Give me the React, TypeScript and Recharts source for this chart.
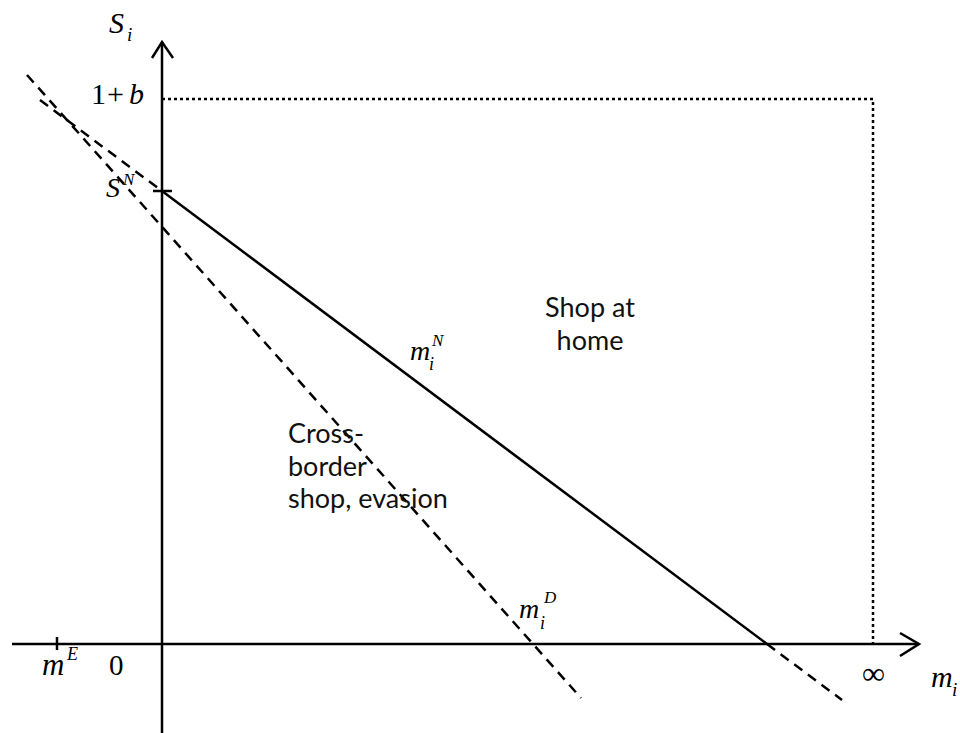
import React from 'react';
import { ComposedChart, Line, XAxis, YAxis, ReferenceDot } from 'recharts';

// Cross-border shopping diagram: threshold lines m_i^N and m_i^D in (m_i, S_i) space.
// One model unit = 100 px on screen; origin at the axis crossing.
const W = 960;
const H = 733;
const X_DOMAIN: [number, number] = [-1.62, 7.98];
const Y_DOMAIN: [number, number] = [-0.89, 6.44];

// key values on the axes
const S_N = 4.53;
const ONE_PLUS_B = 5.45;
const INF = 7.11;
const M_E = -1.05;

// axis extents (arrow tips at the far ends)
const axisX = [-1.5, 7.57];
const axisY = [-0.89, 6.02];

// m_i^N: dashed, solid between the axes, dashed again
const mNx = [-1.22, 0, 6.05, 6.8];
const mNy = [5.44, S_N, 0, -0.56];

// m_i^D (dashed throughout)
const mDx = [-1.35, 4.19];
const mDy = [5.69, -0.54];

// dotted cap: 1+b across to infinity, then down
const capX = [0, INF, INF];
const capY = [ONE_PLUS_B, ONE_PLUS_B, 0];

const INK = '#000';
const SERIF = '"Liberation Serif", "DejaVu Serif", serif';
const SANS = 'Lato, "Open Sans", sans-serif';
const DASH = '10 7';

const pts = (xs: number[], ys: number[]) => xs.map((x, i) => ({ x, y: ys[i] }));

const seg = (key: string, data: { x: number; y: number }[], dash?: string, width = 2.5) => (
  <Line
    key={key}
    data={data}
    dataKey="y"
    type="linear"
    stroke={INK}
    strokeWidth={width}
    strokeDasharray={dash}
    dot={false}
    activeDot={false}
    isAnimationActive={false}
  />
);

type Part = { t: string; dx: number; dy: number; size: number; italic?: boolean };

// math-style label: several small text pieces placed relative to one anchor
const mathLabel = (key: string, x: number, y: number, parts: Part[]) => (
  <ReferenceDot
    key={key}
    x={x}
    y={y}
    r={0}
    ifOverflow="visible"
    shape={(p: any) => (
      <g>
        {parts.map((q, i) => (
          <text
            key={i}
            x={p.cx + q.dx}
            y={p.cy + q.dy}
            fontFamily={SERIF}
            fontSize={q.size}
            fontStyle={q.italic ? 'italic' : 'normal'}
            fill={INK}
          >
            {q.t}
          </text>
        ))}
      </g>
    )}
  />
);

const textBlock = (key: string, x: number, y: number, lines: string[], anchor: 'start' | 'middle') => (
  <ReferenceDot
    key={key}
    x={x}
    y={y}
    r={0}
    ifOverflow="visible"
    shape={(p: any) => (
      <text x={p.cx} y={p.cy} fontFamily={SANS} fontSize={27} textAnchor={anchor} fill="#111">
        {lines.map((l, i) => (
          <tspan key={i} x={p.cx} dy={i === 0 ? 0 : 32.5}>
            {l}
          </tspan>
        ))}
      </text>
    )}
  />
);

export default function App() {
  return (
    <div style={{ position: 'absolute', left: 0, top: 0, width: W, height: H, background: '#fff' }}>
      <ComposedChart width={W} height={H} margin={{ top: 0, right: 0, bottom: 0, left: 0 }}>
        <XAxis type="number" dataKey="x" domain={X_DOMAIN} allowDataOverflow hide />
        <YAxis type="number" domain={Y_DOMAIN} allowDataOverflow hide />

        {seg('axis-x', pts(axisX, [0, 0]))}
        {seg('axis-y', pts([0, 0], axisY))}
        {seg('arrow-x', pts([axisX[1] - 0.19, axisX[1], axisX[1] - 0.19], [0.11, 0, -0.12]))}
        {seg('arrow-y', pts([-0.1, 0, 0.11], [axisY[1] - 0.16, axisY[1], axisY[1] - 0.16]))}
        {seg('tick-sn', pts([-0.09, 0.1], [S_N, S_N]))}
        {seg('tick-me', pts([M_E, M_E], [0.07, -0.06]))}

        {seg('cap', pts(capX, capY), '3 3')}

        {seg('mN-left', pts(mNx.slice(0, 2), mNy.slice(0, 2)), DASH)}
        {seg('mN', pts(mNx.slice(1, 3), mNy.slice(1, 3)))}
        {seg('mN-right', pts(mNx.slice(2, 4), mNy.slice(2, 4)), DASH)}
        {seg('mD', pts(mDx, mDy), DASH)}

        {mathLabel('Si', -0.53, 6.11, [
          { t: 'S', dx: 0, dy: 0, size: 30, italic: true },
          { t: 'i', dx: 18, dy: 8, size: 19, italic: true },
        ])}
        {mathLabel('1b', -0.71, 5.4, [
          { t: '1', dx: 0, dy: 0, size: 30 },
          { t: '+', dx: 16, dy: 0, size: 30 },
          { t: 'b', dx: 38, dy: 0, size: 30, italic: true },
        ])}
        {mathLabel('SN', -0.56, 4.47, [
          { t: 'S', dx: 0, dy: 0, size: 28, italic: true },
          { t: 'N', dx: 17, dy: -12, size: 17, italic: true },
        ])}
        {mathLabel('mN', 2.48, 2.84, [
          { t: 'm', dx: 0, dy: 0, size: 28, italic: true },
          { t: 'i', dx: 19, dy: 10, size: 18, italic: true },
          { t: 'N', dx: 22, dy: -14, size: 17, italic: true },
        ])}
        {mathLabel('mD', 3.57, 0.26, [
          { t: 'm', dx: 0, dy: 0, size: 28, italic: true },
          { t: 'i', dx: 21, dy: 11, size: 18, italic: true },
          { t: 'D', dx: 25, dy: -15, size: 17, italic: true },
        ])}
        {mathLabel('mE', -1.2, -0.31, [
          { t: 'm', dx: 0, dy: 0, size: 31, italic: true },
          { t: 'E', dx: 25, dy: -15, size: 18, italic: true },
        ])}
        {mathLabel('zero', -0.53, -0.31, [{ t: '0', dx: 0, dy: 0, size: 29 }])}
        {mathLabel('inf', 7.0, -0.4, [{ t: '∞', dx: 0, dy: 0, size: 32 }])}
        {mathLabel('mi', 7.69, -0.43, [
          { t: 'm', dx: 0, dy: 0, size: 30, italic: true },
          { t: 'i', dx: 21, dy: 9, size: 19, italic: true },
        ])}

        {textBlock('home', 4.28, 3.27, ['Shop at', 'home'], 'middle')}
        {textBlock('cross', 1.26, 2.01, ['Cross-', 'border', 'shop, evasion'], 'start')}
      </ComposedChart>
    </div>
  );
}
